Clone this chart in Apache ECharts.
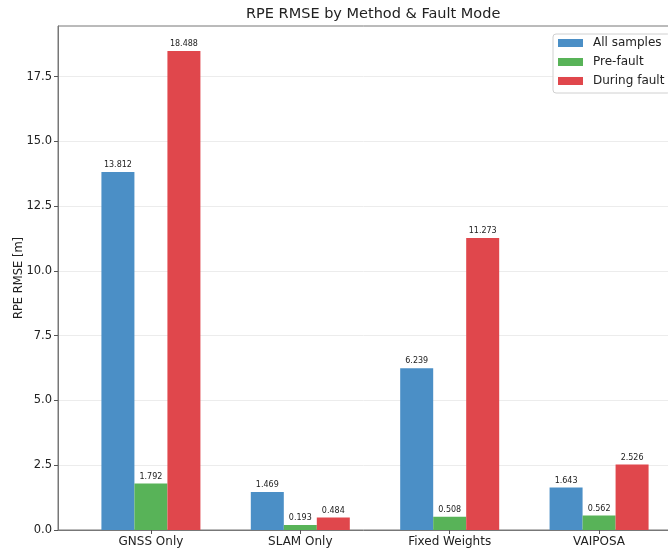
<!DOCTYPE html>
<html>
<head>
<meta charset="utf-8">
<script src="https://cdn.jsdelivr.net/npm/echarts@6/dist/echarts.min.js"></script>
<style>
  html, body { margin: 0; padding: 0; background: #fff; }
  #chart { width: 668px; height: 552px; }
</style>
</head>
<body>
<div id="chart"></div>
<script>
// Methods compared and RPE RMSE (m) for each fault mode
const methods = ['GNSS Only', 'SLAM Only', 'Fixed Weights', 'VAIPOSA'];
const allSamples = [13.812, 1.469, 6.239, 1.643];
const preFault = [1.792, 0.193, 0.508, 0.562];
const duringFault = [18.488, 0.484, 11.273, 2.526];
const yTicks = [0, 2.5, 5, 7.5, 10, 12.5, 15, 17.5];

const FONT = 'DejaVu Sans';
const positions = methods.map((_, i) => i);

function barSeries(name, values, color) {
  return {
    name: name,
    type: 'bar',
    barWidth: 33,
    barGap: '0%',
    data: values.map((v, i) => [i, v]),
    itemStyle: { color: color },
    label: {
      show: true,
      position: 'top',
      distance: 3,
      fontFamily: FONT,
      fontSize: 8,
      color: '#222',
      formatter: p => p.value[1].toFixed(3)
    }
  };
}

const chart = echarts.init(document.getElementById('chart'), null, { renderer: 'canvas' });
chart.setOption({
  animation: false,
  backgroundColor: '#fff',
  title: {
    text: 'RPE RMSE by Method & Fault Mode',
    left: 246,
    top: 7,
    padding: 0,
    textStyle: { fontFamily: FONT, fontSize: 14.5, fontWeight: 'normal', color: '#222' }
  },
  legend: {
    orient: 'vertical',
    left: 553,
    top: 34,
    padding: [3, 6, 6, 5],
    itemWidth: 25,
    itemHeight: 8,
    itemGap: 7,
    icon: 'rect',
    borderColor: '#d0d0d0',
    borderWidth: 1,
    borderRadius: 3,
    backgroundColor: 'rgba(255,255,255,0.85)',
    textStyle: { fontFamily: FONT, fontSize: 12, color: '#222', padding: [0, 0, 0, 5] },
    itemStyle: { borderWidth: 0 },
    data: ['All samples', 'Pre-fault', 'During fault']
  },
  grid: {
    left: 58,
    top: 26,
    width: 634,
    height: 504,
    outerBoundsMode: 'none',
    containLabel: false,
    show: true,
    borderColor: '#777',
    borderWidth: 1,
    backgroundColor: 'transparent'
  },
  xAxis: {
    type: 'value',
    min: -0.622,
    max: 3.622,
    splitLine: { show: false },
    axisLine: { onZero: false, lineStyle: { color: '#777', width: 1 } },
    axisTick: { customValues: positions, length: 4, lineStyle: { color: '#555' } },
    axisLabel: {
      customValues: positions,
      formatter: v => methods[Math.round(v)],
      fontFamily: FONT,
      fontSize: 12,
      color: '#222',
      margin: 6
    }
  },
  yAxis: {
    type: 'value',
    min: 0,
    max: 19.45,
    interval: 2.5,
    name: 'RPE RMSE [m]',
    nameLocation: 'middle',
    nameGap: 33,
    nameMoveOverlap: false,
    nameTextStyle: { fontFamily: FONT, fontSize: 11.5, color: '#222' },
    axisLine: { show: true, onZero: false, lineStyle: { color: '#777', width: 1 } },
    axisTick: { show: true, customValues: yTicks, length: 4, lineStyle: { color: '#555' } },
    axisLabel: {
      customValues: yTicks,
      formatter: v => v.toFixed(1),
      fontFamily: FONT,
      fontSize: 11.5,
      color: '#222',
      margin: 6
    },
    splitLine: { show: true, lineStyle: { color: '#ececec', width: 1 } }
  },
  series: [
    barSeries('All samples', allSamples, '#4b8fc6'),
    barSeries('Pre-fault', preFault, '#58b358'),
    barSeries('During fault', duringFault, '#e0474c')
  ]
});
</script>
</body>
</html>
